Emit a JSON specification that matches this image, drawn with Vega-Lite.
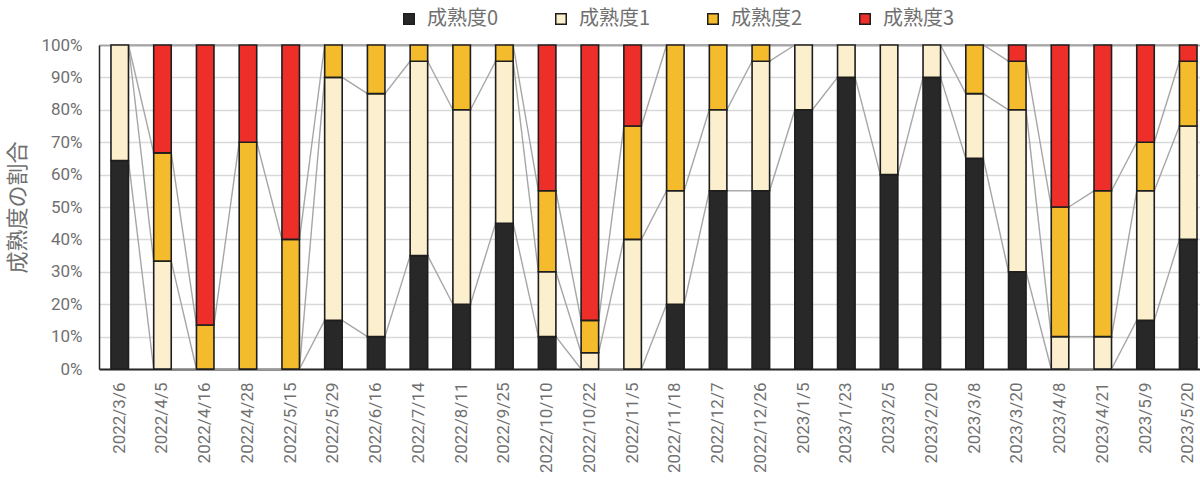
{
  "$schema": "https://vega.github.io/schema/vega-lite/v6.json",
  "autosize": {"type": "none"},
  "padding": {"left": 99, "top": 45, "right": 0, "bottom": 114},
  "width": 1101,
  "height": 324,
  "background": "white",
  "config": {
    "view": {"stroke": null},
    "font": "Roboto",
    "axisY": {
      "titleFont": "Noto Sans CJK JP", "titleFontSize": 22,
      "titleFontWeight": "normal", "titleColor": "#707070", "titlePadding": 11,
      "labelFont": "Roboto", "labelFontSize": 17, "labelColor": "#707070",
      "labelOverlap": false,
      "ticks": false, "tickSize": 0, "labelPadding": 17,
      "domainColor": "#262626", "domainWidth": 1.5,
      "grid": true, "gridColor": "#d9d9d9", "gridWidth": 1.5
    },
    "axisX": {
      "labelAngle": -90, "labelFont": "Roboto", "labelFontSize": 17,
      "labelColor": "#707070", "ticks": false, "tickSize": 0, "labelPadding": 13,
      "labelOverlap": false,
      "domainColor": "#262626", "domainWidth": 2
    }
  },
  "data": {
    "values": [
      {"date": "2022/3/6", "level": "成熟度0", "pct": 64.3}, {"date": "2022/3/6", "level": "成熟度1", "pct": 35.7}, {"date": "2022/3/6", "level": "成熟度2", "pct": 0}, {"date": "2022/3/6", "level": "成熟度3", "pct": 0},
      {"date": "2022/4/5", "level": "成熟度0", "pct": 0}, {"date": "2022/4/5", "level": "成熟度1", "pct": 33.3}, {"date": "2022/4/5", "level": "成熟度2", "pct": 33.4}, {"date": "2022/4/5", "level": "成熟度3", "pct": 33.3},
      {"date": "2022/4/16", "level": "成熟度0", "pct": 0}, {"date": "2022/4/16", "level": "成熟度1", "pct": 0}, {"date": "2022/4/16", "level": "成熟度2", "pct": 13.6}, {"date": "2022/4/16", "level": "成熟度3", "pct": 86.4},
      {"date": "2022/4/28", "level": "成熟度0", "pct": 0}, {"date": "2022/4/28", "level": "成熟度1", "pct": 0}, {"date": "2022/4/28", "level": "成熟度2", "pct": 70}, {"date": "2022/4/28", "level": "成熟度3", "pct": 30},
      {"date": "2022/5/15", "level": "成熟度0", "pct": 0}, {"date": "2022/5/15", "level": "成熟度1", "pct": 0}, {"date": "2022/5/15", "level": "成熟度2", "pct": 40}, {"date": "2022/5/15", "level": "成熟度3", "pct": 60},
      {"date": "2022/5/29", "level": "成熟度0", "pct": 15}, {"date": "2022/5/29", "level": "成熟度1", "pct": 75}, {"date": "2022/5/29", "level": "成熟度2", "pct": 10}, {"date": "2022/5/29", "level": "成熟度3", "pct": 0},
      {"date": "2022/6/16", "level": "成熟度0", "pct": 10}, {"date": "2022/6/16", "level": "成熟度1", "pct": 75}, {"date": "2022/6/16", "level": "成熟度2", "pct": 15}, {"date": "2022/6/16", "level": "成熟度3", "pct": 0},
      {"date": "2022/7/14", "level": "成熟度0", "pct": 35}, {"date": "2022/7/14", "level": "成熟度1", "pct": 60}, {"date": "2022/7/14", "level": "成熟度2", "pct": 5}, {"date": "2022/7/14", "level": "成熟度3", "pct": 0},
      {"date": "2022/8/11", "level": "成熟度0", "pct": 20}, {"date": "2022/8/11", "level": "成熟度1", "pct": 60}, {"date": "2022/8/11", "level": "成熟度2", "pct": 20}, {"date": "2022/8/11", "level": "成熟度3", "pct": 0},
      {"date": "2022/9/25", "level": "成熟度0", "pct": 45}, {"date": "2022/9/25", "level": "成熟度1", "pct": 50}, {"date": "2022/9/25", "level": "成熟度2", "pct": 5}, {"date": "2022/9/25", "level": "成熟度3", "pct": 0},
      {"date": "2022/10/10", "level": "成熟度0", "pct": 10}, {"date": "2022/10/10", "level": "成熟度1", "pct": 20}, {"date": "2022/10/10", "level": "成熟度2", "pct": 25}, {"date": "2022/10/10", "level": "成熟度3", "pct": 45},
      {"date": "2022/10/22", "level": "成熟度0", "pct": 0}, {"date": "2022/10/22", "level": "成熟度1", "pct": 5}, {"date": "2022/10/22", "level": "成熟度2", "pct": 10}, {"date": "2022/10/22", "level": "成熟度3", "pct": 85},
      {"date": "2022/11/5", "level": "成熟度0", "pct": 0}, {"date": "2022/11/5", "level": "成熟度1", "pct": 40}, {"date": "2022/11/5", "level": "成熟度2", "pct": 35}, {"date": "2022/11/5", "level": "成熟度3", "pct": 25},
      {"date": "2022/11/18", "level": "成熟度0", "pct": 20}, {"date": "2022/11/18", "level": "成熟度1", "pct": 35}, {"date": "2022/11/18", "level": "成熟度2", "pct": 45}, {"date": "2022/11/18", "level": "成熟度3", "pct": 0},
      {"date": "2022/12/7", "level": "成熟度0", "pct": 55}, {"date": "2022/12/7", "level": "成熟度1", "pct": 25}, {"date": "2022/12/7", "level": "成熟度2", "pct": 20}, {"date": "2022/12/7", "level": "成熟度3", "pct": 0},
      {"date": "2022/12/26", "level": "成熟度0", "pct": 55}, {"date": "2022/12/26", "level": "成熟度1", "pct": 40}, {"date": "2022/12/26", "level": "成熟度2", "pct": 5}, {"date": "2022/12/26", "level": "成熟度3", "pct": 0},
      {"date": "2023/1/5", "level": "成熟度0", "pct": 80}, {"date": "2023/1/5", "level": "成熟度1", "pct": 20}, {"date": "2023/1/5", "level": "成熟度2", "pct": 0}, {"date": "2023/1/5", "level": "成熟度3", "pct": 0},
      {"date": "2023/1/23", "level": "成熟度0", "pct": 90}, {"date": "2023/1/23", "level": "成熟度1", "pct": 10}, {"date": "2023/1/23", "level": "成熟度2", "pct": 0}, {"date": "2023/1/23", "level": "成熟度3", "pct": 0},
      {"date": "2023/2/5", "level": "成熟度0", "pct": 60}, {"date": "2023/2/5", "level": "成熟度1", "pct": 40}, {"date": "2023/2/5", "level": "成熟度2", "pct": 0}, {"date": "2023/2/5", "level": "成熟度3", "pct": 0},
      {"date": "2023/2/20", "level": "成熟度0", "pct": 90}, {"date": "2023/2/20", "level": "成熟度1", "pct": 10}, {"date": "2023/2/20", "level": "成熟度2", "pct": 0}, {"date": "2023/2/20", "level": "成熟度3", "pct": 0},
      {"date": "2023/3/8", "level": "成熟度0", "pct": 65}, {"date": "2023/3/8", "level": "成熟度1", "pct": 20}, {"date": "2023/3/8", "level": "成熟度2", "pct": 15}, {"date": "2023/3/8", "level": "成熟度3", "pct": 0},
      {"date": "2023/3/20", "level": "成熟度0", "pct": 30}, {"date": "2023/3/20", "level": "成熟度1", "pct": 50}, {"date": "2023/3/20", "level": "成熟度2", "pct": 15}, {"date": "2023/3/20", "level": "成熟度3", "pct": 5},
      {"date": "2023/4/8", "level": "成熟度0", "pct": 0}, {"date": "2023/4/8", "level": "成熟度1", "pct": 10}, {"date": "2023/4/8", "level": "成熟度2", "pct": 40}, {"date": "2023/4/8", "level": "成熟度3", "pct": 50},
      {"date": "2023/4/21", "level": "成熟度0", "pct": 0}, {"date": "2023/4/21", "level": "成熟度1", "pct": 10}, {"date": "2023/4/21", "level": "成熟度2", "pct": 45}, {"date": "2023/4/21", "level": "成熟度3", "pct": 45},
      {"date": "2023/5/9", "level": "成熟度0", "pct": 15}, {"date": "2023/5/9", "level": "成熟度1", "pct": 40}, {"date": "2023/5/9", "level": "成熟度2", "pct": 15}, {"date": "2023/5/9", "level": "成熟度3", "pct": 30},
      {"date": "2023/5/20", "level": "成熟度0", "pct": 40}, {"date": "2023/5/20", "level": "成熟度1", "pct": 35}, {"date": "2023/5/20", "level": "成熟度2", "pct": 20}, {"date": "2023/5/20", "level": "成熟度3", "pct": 5}
    ]
  },
  "layer": [
    {
      "transform": [
        {"stack": "pct", "groupby": ["date"], "sort": [{"field": "level"}], "as": ["c0", "c1"], "offset": "normalize"},
        {"window": [{"op": "lead", "field": "c1", "as": "nc1"}, {"op": "lead", "field": "date", "as": "ndate"}], "groupby": ["level"]},
        {"filter": "datum.ndate != null"}
      ],
      "mark": {"type": "rule", "color": "#a6a6a6", "strokeWidth": 1.4},
      "encoding": {
        "x": {"field": "date", "type": "nominal", "sort": null, "bandPosition": 1, "title": null},
        "x2": {"field": "ndate", "bandPosition": 0},
        "y": {
          "field": "c1", "type": "quantitative", "title": "成熟度の割合",
          "scale": {"domain": [0, 1], "nice": false},
          "axis": {
            "format": ".0%", "tickCount": 20, "values": [0, 0.1, 0.2, 0.3, 0.4, 0.5, 0.6, 0.7, 0.8, 0.9, 1],
            "gridColor": {"condition": {"test": "datum.value === 1", "value": "#a6a6a6"}, "value": "#d9d9d9"},
            "gridWidth": {"condition": {"test": "datum.value === 1", "value": 2}, "value": 1.5}
          }
        },
        "y2": {"field": "nc1"}
      }
    },
    {
      "transform": [{"filter": "datum.pct > 0"}],
      "mark": {"type": "bar", "stroke": "#1e1e1e", "strokeWidth": 1.6},
      "encoding": {
        "x": {
          "field": "date", "type": "nominal", "sort": null, "title": null,
          "scale": {"paddingInner": 0.59, "paddingOuter": 0.175, "align": 0.8}
        },
        "y": {
          "field": "pct", "type": "quantitative", "stack": "normalize", "title": "成熟度の割合",
          "scale": {"domain": [0, 1], "nice": false},
          "axis": {
            "format": ".0%", "tickCount": 20, "values": [0, 0.1, 0.2, 0.3, 0.4, 0.5, 0.6, 0.7, 0.8, 0.9, 1],
            "gridColor": {"condition": {"test": "datum.value === 1", "value": "#a6a6a6"}, "value": "#d9d9d9"},
            "gridWidth": {"condition": {"test": "datum.value === 1", "value": 2}, "value": 1.5}
          }
        },
        "color": {
          "field": "level", "type": "nominal",
          "scale": {
            "domain": ["成熟度0", "成熟度1", "成熟度2", "成熟度3"],
            "range": ["#282828", "#fcefcd", "#f4bc2c", "#ee2e28"]
          },
          "legend": {
            "title": null, "orient": "none", "direction": "horizontal",
            "legendX": 300, "legendY": -36, "padding": 0,
            "symbolType": "square", "symbolSize": 110, "symbolStrokeColor": "#1e1e1e", "symbolStrokeWidth": 1.5,
            "labelFont": "Noto Sans CJK JP", "labelFontSize": 20, "labelColor": "#707070",
            "labelOffset": 8, "columnPadding": 52
          }
        },
        "order": {"field": "level"}
      }
    }
  ]
}
